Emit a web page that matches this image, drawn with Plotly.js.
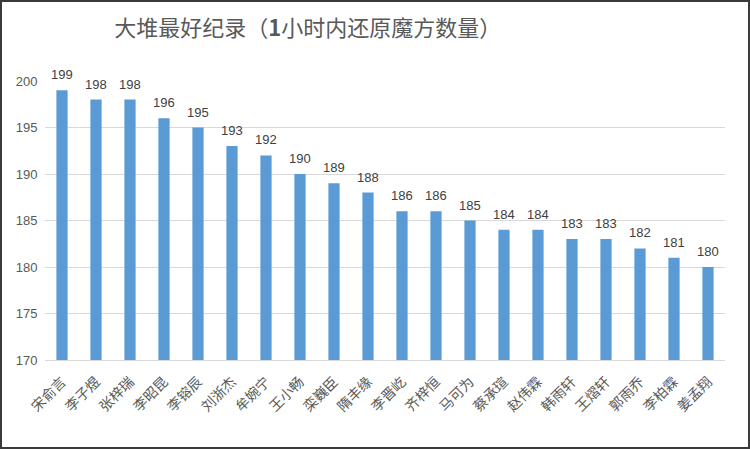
<!DOCTYPE html>
<html>
<head>
<meta charset="utf-8">
<script src="https://cdn.plot.ly/plotly-3.0.1.min.js"></script>
<style>
  html, body { margin: 0; padding: 0; background: #fff; }
  #chart { width: 746px; height: 445px; border: 2px solid #3a3a3a; }
</style>
</head>
<body>
<div id="chart"></div>
<script>
// player names, in the order they appear on the x axis
var names = ['宋俞言', '李子煜', '张梓瑞', '李昭昆', '李镕辰', '刘浙杰', '牟婉宁',
             '王小畅', '栾巍臣', '隋丰缘', '李晋屹', '齐梓恒', '马可为', '蔡承瑄',
             '赵伟霖', '韩雨轩', '王熠轩', '郭雨乔', '李柏霖', '姜孟翔'];

// cubes solved in one hour
var solved = [199, 198, 198, 196, 195, 193, 192, 190, 189, 188,
              186, 186, 185, 184, 184, 183, 183, 182, 181, 180];

var yTicks = [170, 175, 180, 185, 190, 195, 200];

var trace = {
  type: 'bar',
  x: names,
  y: solved,
  marker: { color: '#5b9bd5' },
  cliponaxis: false,
  hoverinfo: 'x+y'
};

// value labels sit a little above each bar
var labels = names.map(function (n, i) {
  return {
    x: n, y: solved[i], xref: 'x', yref: 'y',
    text: String(solved[i]),
    showarrow: false,
    yanchor: 'bottom',
    yshift: 6,
    font: { family: 'Liberation Sans, Arial, sans-serif', size: 13, color: '#404040' }
  };
});

var layout = {
  width: 746,
  height: 445,
  margin: { l: 43, r: 23, t: 79, b: 87, pad: 0 },
  paper_bgcolor: '#fff',
  plot_bgcolor: '#fff',
  showlegend: false,
  bargap: 0.67,
  annotations: labels,
  title: {
    text: '大堆最好纪录（<b>1</b>小时内还原魔方数量）',
    font: { family: 'Noto Sans CJK SC, sans-serif', size: 22, color: '#595959' },
    x: 0.41, xanchor: 'center',
    y: 0.94, yanchor: 'middle'
  },
  xaxis: {
    type: 'category',
    tickangle: -45,
    tickfont: { family: 'Noto Sans CJK SC, serif', size: 14, color: '#595959' },
    showline: true,
    linecolor: '#d9d9d9',
    ticks: 'outside',
    ticklen: 7,
    tickcolor: 'rgba(0,0,0,0)',
    showgrid: false
  },
  yaxis: {
    range: [170, 200],
    tickvals: yTicks,
    ticktext: yTicks.map(String),
    tickfont: { family: 'Liberation Sans, Arial, sans-serif', size: 13, color: '#595959' },
    showgrid: true,
    gridcolor: '#d9d9d9',
    zeroline: false,
    showline: false,
    ticks: 'outside',
    ticklen: 4,
    tickcolor: 'rgba(0,0,0,0)',
    automargin: false
  }
};

Plotly.newPlot('chart', [trace], layout, { displayModeBar: false, staticPlot: true });
</script>
</body>
</html>
